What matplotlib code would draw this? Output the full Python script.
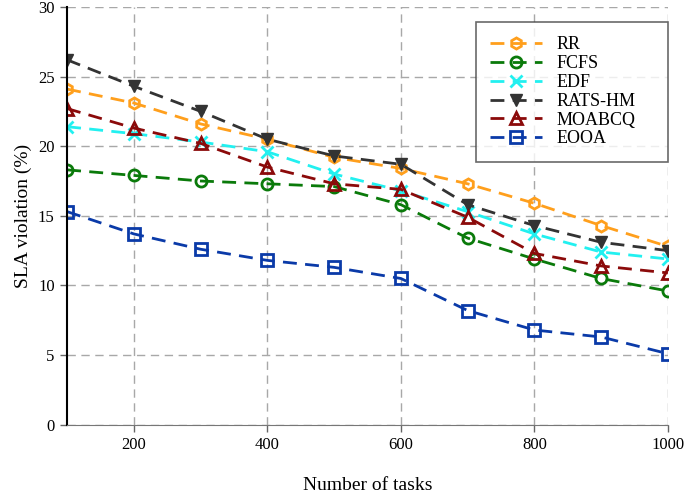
import matplotlib
matplotlib.use('Agg')
import matplotlib.pyplot as plt

tasks = [100, 200, 300, 400, 500, 600, 700, 800, 900, 1000]
rr = [24.1, 23.1, 21.6, 20.5, 19.2, 18.4, 17.3, 15.9, 14.3, 12.8]
fcfs = [18.3, 17.9, 17.5, 17.3, 17.1, 15.8, 13.4, 11.9, 10.5, 9.6]
edf = [21.4, 20.9, 20.3, 19.6, 18.0, 16.8, 15.3, 13.7, 12.4, 11.9]
rats_hm = [26.2, 24.3, 22.5, 20.5, 19.3, 18.7, 15.8, 14.3, 13.1, 12.5]
moabcq = [22.7, 21.3, 20.2, 18.5, 17.3, 16.9, 14.9, 12.3, 11.4, 10.9]
eooa = [15.3, 13.7, 12.6, 11.8, 11.3, 10.5, 8.2, 6.8, 6.3, 5.1]

plt.rcParams['font.family'] = ['Liberation Serif', 'DejaVu Serif']

fig, ax = plt.subplots(figsize=(6.85, 4.95), dpi=100)
fig.subplots_adjust(left=0.098, right=0.975, top=0.986, bottom=0.142)

style = dict(linestyle='--', linewidth=2, markersize=8, markerfacecolor='none', markeredgewidth=2, dashes=(5, 3))
ax.plot(tasks, rr, marker='h', color='#ff9f1c', label='RR', **style)
ax.plot(tasks, fcfs, marker='o', color='#0a7a0a', label='FCFS', **style)
ax.plot(tasks, edf, marker='x', color='#22f0f0', label='EDF', **style)
ax.plot(tasks, rats_hm, marker='v', color='#333333', label='RATS-HM', linestyle='--', linewidth=2,
        markersize=8, dashes=(5, 3))
ax.plot(tasks, moabcq, marker='^', color='#8b0a0a', label='MOABCQ', **style)
ax.plot(tasks, eooa, marker='s', color='#0a3aa8', label='EOOA', **style)

ax.set_xlim(100, 1000)
ax.set_ylim(0, 30)
ax.set_xticks([200, 400, 600, 800, 1000])
ax.set_yticks(range(0, 31, 5))
ax.grid(True, linestyle=(0, (6, 4)), color='#a8a8a8', linewidth=1)
ax.spines['top'].set_visible(False)
ax.spines['right'].set_visible(False)
ax.spines['left'].set_linewidth(1.5)
ax.spines['bottom'].set_color('#777777')
ax.tick_params(labelsize=12, direction='out', length=5, width=1, color='#666666', pad=4)
ax.set_xlabel('Number of tasks', fontsize=14, labelpad=17)
ax.set_ylabel('SLA violation (%)', fontsize=14)

leg = ax.legend(loc='upper left', fontsize=13, fancybox=False, edgecolor='#444444',
                handlelength=2.9, handletextpad=0.8, borderpad=0.8, labelspacing=0.1,
                borderaxespad=0, mode='expand', bbox_to_anchor=(0.68, 0.0, 0.32, 0.964))
leg.get_frame().set_linewidth(1.2)

fig.savefig('out.png', dpi=100)
